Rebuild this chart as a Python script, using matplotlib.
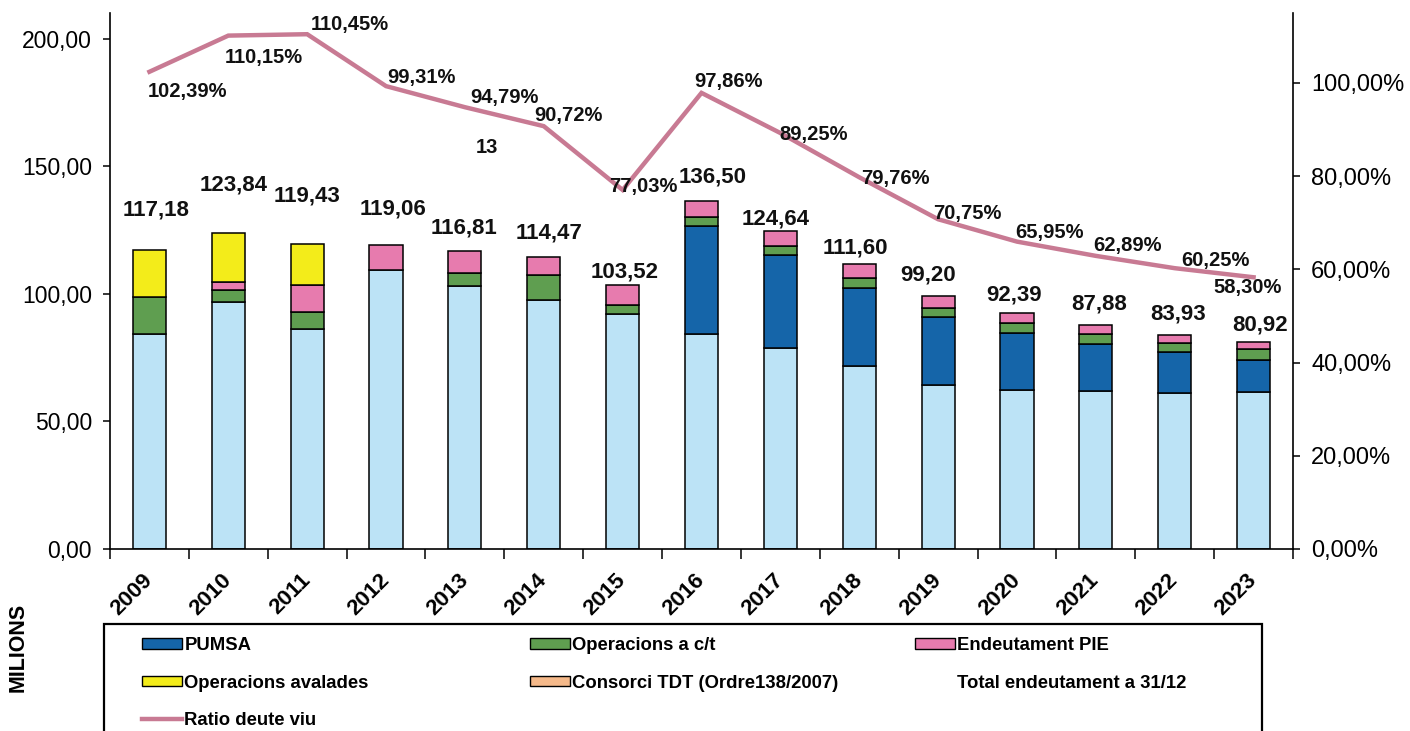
import matplotlib
matplotlib.use("Agg")
import matplotlib.pyplot as plt
import numpy as np
from matplotlib.patches import Patch, Rectangle
from matplotlib.lines import Line2D

plt.rcParams['font.family'] = ['Liberation Sans', 'DejaVu Sans']

years = [str(y) for y in range(2009, 2024)]

# milions d'euros per component
base = [84.1, 96.8, 86.0, 109.5, 103.2, 97.7, 92.2, 84.4, 78.8, 71.6, 64.4, 62.2, 61.8, 61.2, 61.4]
pumsa = [0, 0, 0, 0, 0, 0, 0, 42.0, 36.4, 30.6, 26.4, 22.4, 18.5, 16.0, 12.8]
op_ct = [14.7, 4.7, 7.0, 0, 4.8, 9.5, 3.4, 3.6, 3.5, 3.8, 3.6, 3.9, 4.1, 3.7, 4.3]
pie = [0, 3.1, 10.5, 9.56, 8.81, 7.27, 7.92, 6.5, 5.94, 5.6, 4.8, 3.89, 3.48, 3.03, 2.42]
avalades = [18.38, 19.24, 15.93, 0, 0, 0, 0, 0, 0, 0, 0, 0, 0, 0, 0]
consorci = [0] * 15
totals = [117.18, 123.84, 119.43, 119.06, 116.81, 114.47, 103.52, 136.50, 124.64,
          111.60, 99.20, 92.39, 87.88, 83.93, 80.92]
ratio = [102.39, 110.15, 110.45, 99.31, 94.79, 90.72, 77.03, 97.86, 89.25,
         79.76, 70.75, 65.95, 62.89, 60.25, 58.30]

# label placement (pixel offsets from the bar top / line point)
tot_dx = [7, 5, 0, 7, -1, 5, 2, 11, -5, -4, -10, -3, 3, 3, 6]
tot_dy = [40, 48, 48, 36, 23, 24, 13, 24, 12, 16, 21, 18, 21, 21, 17]
rat_dx = [38, 36, 43, 35, 40, 25, 21, 27, 33, 36, 29, 33, 32, 41, -6]
rat_dy = [-20, -22, 10, 9, 10, 11, 3, 11, -1, -1, 6, 9, 10, 8, -10]

c_base = '#BCE3F6'
c_pumsa = '#1565A9'
c_ct = '#5F9E50'
c_pie = '#E77BAE'
c_aval = '#F3EC1A'
c_cons = '#F5B98A'
c_line = '#C87A93'


def fmt(v, dec=2):
    return ('{:.%df}' % dec).format(v).replace('.', ',')


fig = plt.figure(figsize=(14.1, 7.31), dpi=100)
ax = fig.add_axes([110 / 1410, (731 - 549) / 731, (1293 - 110) / 1410, (549 - 13) / 731])
ax2 = ax.twinx()

x = np.arange(len(years))
w = 0.42
bottom = np.zeros(len(years))
for vals, col in [(base, c_base), (pumsa, c_pumsa), (op_ct, c_ct), (pie, c_pie),
                  (avalades, c_aval), (consorci, c_cons)]:
    vals = np.array(vals, dtype=float)
    mask = vals > 0
    ax.bar(x[mask], vals[mask], w, bottom=bottom[mask], color=col,
           edgecolor='black', linewidth=1.1, zorder=2)
    bottom += vals

for i, t in enumerate(totals):
    ax.annotate(fmt(t), xy=(i, t), xytext=(tot_dx[i], tot_dy[i]), textcoords='offset pixels',
                ha='center', va='center', fontsize=16, fontweight='bold', color='#111111')

ax2.plot(x, ratio, color=c_line, lw=3.2, solid_joinstyle='miter', zorder=3)
for i, r in enumerate(ratio):
    ax2.annotate(fmt(r) + '%', xy=(i, r), xytext=(rat_dx[i], rat_dy[i]), textcoords='offset pixels',
                 ha='center', va='center', fontsize=14.5, fontweight='bold', color='#111111')
# stray label in the original chart
ax2.annotate('13', xy=(4, ratio[4]), xytext=(22, -40), textcoords='offset pixels',
             ha='center', va='center', fontsize=14.5, fontweight='bold', color='#111111')

ax.set_xlim(-0.5, len(years) - 0.5)
ax.set_ylim(0, 210)
ax2.set_ylim(0, 115)

ax.set_yticks(np.arange(0, 201, 50))
ax.set_yticklabels([fmt(v) for v in np.arange(0, 201, 50)], fontsize=16.5)
ax2.set_yticks(np.arange(0, 101, 20))
ax2.set_yticklabels([fmt(v) + '%' for v in np.arange(0, 101, 20)], fontsize=17)

ax.set_xticks(np.arange(-0.5, len(years), 1))
ax.set_xticklabels([])
ax.set_xticks(x, minor=True)
ax.set_xticklabels(years, minor=True, rotation=45, ha='right', va='center',
                   rotation_mode='anchor', fontsize=16, fontweight='bold')
ax.tick_params(axis='x', which='minor', length=0, pad=20)
ax.tick_params(axis='x', which='major', length=7, width=1.1, direction='out')
ax.tick_params(axis='y', length=5, width=1.1, direction='out', pad=8)
ax2.tick_params(axis='y', length=5, width=1.1, direction='out', pad=8)

for a in (ax, ax2):
    a.spines['top'].set_visible(False)
    for s in ('left', 'right', 'bottom'):
        a.spines[s].set_linewidth(1.2)
ax2.spines['left'].set_visible(False)
ax2.spines['bottom'].set_visible(False)
ax.spines['right'].set_visible(False)

fig.text(18 / 1410, 1 - 647 / 731, 'MILIONS', rotation=90, ha='center', va='center',
         fontsize=15.5, fontweight='bold')

# legend box (runs off the bottom of the page)
fig.patches.append(Rectangle((104 / 1410, -0.05), (1262 - 104) / 1410, (731 - 624) / 731 + 0.05,
                             transform=fig.transFigure, fill=False, edgecolor='black', lw=1.6))

col1 = [Patch(facecolor=c_pumsa, edgecolor='black'), Patch(facecolor=c_aval, edgecolor='black'),
        Line2D([], [], color=c_line, lw=3.2)]
col2 = [Patch(facecolor=c_ct, edgecolor='black'), Patch(facecolor=c_cons, edgecolor='black')]
col3 = [Patch(facecolor=c_pie, edgecolor='black'), Patch(facecolor='none', edgecolor='none')]
lab1 = ['PUMSA', 'Operacions avalades', 'Ratio deute viu']
lab2 = ['Operacions a c/t', 'Consorci TDT (Ordre138/2007)']
lab3 = ['Endeutament PIE', 'Total endeutament a 31/12']

for hs, ls, xpx in [(col1, lab1, 142), (col2, lab2, 530), (col3, lab3, 915)]:
    leg = fig.legend(hs, ls, loc='upper left', bbox_to_anchor=(xpx / 1410, 1 - 637 / 731),
                     frameon=False, prop={'size': 13.3, 'weight': 'bold'},
                     handlelength=2.15, handleheight=0.5, handletextpad=0.15,
                     labelspacing=1.12, borderpad=0, borderaxespad=0)

fig.savefig('out.png', dpi=100)
